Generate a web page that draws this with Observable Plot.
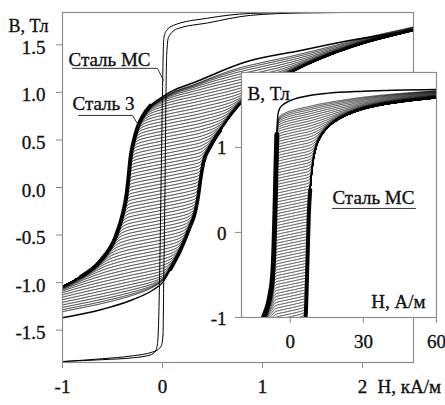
<!DOCTYPE html>
<html><head><meta charset="utf-8">
<script src="https://cdn.jsdelivr.net/npm/d3@7"></script>
<script src="https://cdn.jsdelivr.net/npm/@observablehq/plot@0.6"></script>
<style>
body{margin:0;background:#fff;}
#wrap{position:relative;width:445px;height:405px;overflow:hidden;}
#inset{position:absolute;left:209px;top:70px;}
svg text{font-family:"Liberation Serif","Times New Roman",Times,"DejaVu Serif",serif !important;}
</style></head><body><div id="wrap"><div id="main"></div><div id="inset"></div></div>
<script>
// ---------- data ----------
const mainXTicks=[-1,0,1,2];
const mainYTicks=[-1.5,-1.0,-0.5,0.0,0.5,1.0,1.5];
const insetXTicks=[0,30,60];
const insetYTicks=[-1,0,1];

// Сталь 3: major loop branches (H, кА/м ; B, Тл)
const st3Desc=[[-1.0,-1.05],[-0.82,-0.94],[-0.62,-0.77],[-0.47,-0.52],[-0.39,-0.245],[-0.36,-0.08],[-0.34,0.1],[-0.32,0.31],[-0.29,0.48],[-0.25,0.63],[-0.2,0.745],[-0.12,0.86],[-0.02,0.94],[0.15,1.04],[0.28,1.09],[0.83,1.32],[1.38,1.44],[1.9,1.55],[2.51,1.65]];
const st3Asc=[[-1.0,-1.37],[-0.6,-1.28],[-0.3,-1.18],[-0.1,-1.08],[0.0,-1.0],[0.08,-0.86],[0.18,-0.66],[0.27,-0.43],[0.33,-0.25],[0.36,-0.08],[0.38,0.08],[0.41,0.26],[0.48,0.43],[0.58,0.6],[0.8,0.9],[1.2,1.16],[1.6,1.36],[2.0,1.51],[2.51,1.65]];
// B at H=0 of each partial (reversal) curve, and their slope (Тл per кА/м)
const st3Offsets=[-1.15,-1.115,-1.08,-1.045,-1.01,-0.975,-0.94,-0.905,-0.87,-0.835,-0.8,-0.765,-0.73,-0.695,-0.66,-0.625,-0.59,-0.555,-0.52,-0.485,-0.45,-0.415,-0.38,-0.345,-0.31,-0.275,-0.24,-0.205,-0.17,-0.135,-0.1,-0.065,-0.03,0.005,0.04,0.075,0.11,0.145,0.18,0.215,0.25,0.285,0.32,0.355,0.39,0.425,0.46,0.495,0.53,0.565,0.6,0.635,0.67,0.705,0.74,0.775,0.81,0.845,0.88,0.915,0.95,0.985,1.02,1.055,1.09,1.125,1.16];
const st3Slope=0.2;

// Сталь МС in main plot (H, кА/м ; B, Тл)
const mcDesc=[[-1.0,-1.83],[-0.6,-1.81],[-0.29,-1.79],[-0.12,-1.76],[-0.07,-1.72],[-0.05,-1.64],[-0.04,-1.45],[-0.03,-1.0],[-0.015,0],[0.0,1.0],[0.008,1.45],[0.015,1.58],[0.04,1.65],[0.11,1.705],[0.45,1.78],[0.88,1.83],[1.4,1.84],[2.51,1.845]];
const mcAsc=[[-1.0,-1.83],[-0.6,-1.80],[-0.3,-1.77],[-0.1,-1.73],[-0.04,-1.70],[-0.01,-1.66],[0.005,-1.55],[0.012,-1.0],[0.025,0],[0.035,1.0],[0.042,1.4],[0.06,1.58],[0.15,1.67],[0.45,1.73],[0.88,1.81],[1.4,1.835],[2.51,1.845]];

// Сталь МС inset (H, А/м ; B, Тл)
const mcInDesc=[[-20,-1.35],[-14,-1.17],[-11,-1.0],[-8.2,-0.72],[-7.2,-0.5],[-6.7,-0.2],[-6.3,0.2],[-5.9,0.7],[-5.5,1.15],[-5.1,1.38],[-4.3,1.46],[-2,1.52],[0,1.55],[3,1.58],[8,1.61],[15,1.635],[30,1.66],[60,1.68]];
const mcInAsc=[[-20,-1.6],[0,-1.35],[5,-1.15],[6.3,-1.0],[6.8,-0.6],[7.2,-0.2],[7.6,0.2],[8.2,0.5],[9.5,0.85],[11,1.03],[13.6,1.17],[20.6,1.34],[33,1.47],[45,1.53],[60,1.58]];
const mcInOffsets=[-1.1,-1.065,-1.03,-0.995,-0.96,-0.925,-0.89,-0.855,-0.82,-0.785,-0.75,-0.715,-0.68,-0.645,-0.61,-0.575,-0.54,-0.505,-0.47,-0.435,-0.4,-0.365,-0.33,-0.295,-0.26,-0.225,-0.19,-0.155,-0.12,-0.085,-0.05,-0.015,0.02,0.055,0.09,0.125,0.16,0.195,0.23,0.265,0.3,0.335,0.37,0.405,0.44,0.475,0.51,0.545,0.58,0.615,0.65,0.685,0.72,0.755,0.79,0.825,0.86,0.895,0.93,0.965,1.0,1.035,1.07,1.105,1.14,1.175,1.21,1.245,1.28,1.315,1.35,1.385,1.42,1.455,1.49,1.525,1.56];
const mcInSlope=0.006;

// annotations
const mainLabels=[{x:-0.94,y:1.337,t:"Сталь МС"},{x:-0.90,y:0.874,t:"Сталь 3"}];
const leaderMC=[[-0.90,1.253],[-0.05,1.253],[0.01,1.126]];
const leaderS3=[[-0.84,0.758],[-0.30,0.758],[-0.24,0.653]];
const insetLabel={x:17.3,y:0.41,t:"Сталь МС"};
const insetUnderline=[[17.3,0.282],[51.4,0.282]];

// ---------- helpers ----------
function interp(pts){
  const xs=pts.map(p=>p[0]), ys=pts.map(p=>p[1]), n=xs.length;
  const d=[], m=new Array(n);
  for(let i=0;i<n-1;i++) d.push((ys[i+1]-ys[i])/(xs[i+1]-xs[i]));
  m[0]=d[0]; m[n-1]=d[n-2];
  for(let i=1;i<n-1;i++){
    const h0=xs[i]-xs[i-1], h1=xs[i+1]-xs[i];
    if(d[i-1]*d[i]<=0) m[i]=0;
    else m[i]=3*(h0+h1)/((2*h1+h0)/d[i-1]+(h1+2*h0)/d[i]);
  }
  return x=>{
    if(x<=xs[0]) return ys[0]+m[0]*(x-xs[0]);
    if(x>=xs[n-1]) return ys[n-1]+m[n-1]*(x-xs[n-1]);
    let i=d3.bisectRight(xs,x)-1; if(i>n-2) i=n-2;
    const h=xs[i+1]-xs[i], t=(x-xs[i])/h, t2=t*t, t3=t2*t;
    return (2*t3-3*t2+1)*ys[i]+(t3-2*t2+t)*h*m[i]+(-2*t3+3*t2)*ys[i+1]+(t3-t2)*h*m[i+1];
  };
}
const smin=(a,b,e)=>(a+b)/2-Math.sqrt(((a-b)/2)**2+e*e);
const smax=(a,b,e)=>(a+b)/2+Math.sqrt(((a-b)/2)**2+e*e);
function family(desc,asc,offsets,slope,h0,h1,step,eD,eA){
  const fD=interp(desc), fA=interp(asc), rows=[];
  offsets.forEach((b0,i)=>{
    const n=Math.round((h1-h0)/step);
    for(let k=0;k<=n;k++){
      const h=h0+k*(h1-h0)/n;
      const L=b0+slope*h;
      rows.push({h,b:smax(smin(L,fD(h),eD),fA(h),eA),i});
    }
  });
  return rows;
}
const FONT='"Liberation Serif","Times New Roman",Times,"DejaVu Serif",serif';
const AX="#8c8c8c", TX="#111", FS=19;
const px=d=>d[0], py=d=>d[1];
const within=(arr,lo,hi)=>arr.filter(d=>d[1]>=lo&&d[1]<=hi);
const T=(o)=>Object.assign({fontSize:FS,fill:TX,stroke:TX,strokeWidth:0.35,fontFamily:FONT},o);

// ---------- main plot ----------
const mainRows=family(st3Desc,st3Asc,st3Offsets,st3Slope,-1,2.51,0.004,0.06,0.06);
const main=Plot.plot({
  width:445,height:405,marginLeft:62,marginRight:32,marginTop:12,marginBottom:43,
  x:{domain:[-1,2.51]}, y:{domain:[-1.84,1.84]},
  style:{fontFamily:FONT,background:"transparent",overflow:"visible"},
  marks:[
    Plot.line(mainRows,{x:"h",y:"b",z:"i",stroke:"#000",strokeWidth:0.85,clip:true}),
    Plot.line(st3Desc,{x:px,y:py,curve:"monotone-x",stroke:"#000",strokeWidth:1.6,clip:true}),
    Plot.line(st3Asc,{x:px,y:py,curve:"monotone-x",stroke:"#000",strokeWidth:1.4,clip:true}),
    Plot.line(within(st3Desc,-0.95,0.9),{x:px,y:py,curve:"monotone-x",stroke:"#000",strokeWidth:4,clip:true}),
    Plot.line(within(st3Asc,-0.9,0.65),{x:px,y:py,curve:"monotone-x",stroke:"#000",strokeWidth:3.5,clip:true}),
    Plot.line(mcDesc,{x:px,y:py,curve:"monotone-x",stroke:"#000",strokeWidth:1,clip:true}),
    Plot.line(mcAsc,{x:px,y:py,curve:"monotone-x",stroke:"#000",strokeWidth:1,clip:true}),
    Plot.frame({stroke:AX,strokeWidth:1.2}),
    Plot.axisX({ticks:mainXTicks,tickSize:6,tickFormat:()=>"",stroke:AX}),
    Plot.axisY({ticks:mainYTicks,tickSize:6,tickFormat:()=>"",stroke:AX}),
    Plot.text(mainXTicks,T({x:d=>d,text:d=>String(d),frameAnchor:"bottom",dy:30})),
    Plot.text(mainYTicks,T({y:d=>d,text:d=>d.toFixed(1),frameAnchor:"left",dx:-17,dy:3,textAnchor:"end"})),
    Plot.text(["B, Тл"],T({text:d=>d,frameAnchor:"top-left",dx:-54,dy:7,textAnchor:"start",fontSize:18})),
    Plot.text(["H, кА/м"],T({text:d=>d,frameAnchor:"bottom-right",dx:-36,dy:30,textAnchor:"start"})),
    Plot.line(leaderMC,{x:px,y:py,stroke:"#333",strokeWidth:1}),
    Plot.line(leaderS3,{x:px,y:py,stroke:"#333",strokeWidth:1}),
    Plot.text(mainLabels,T({x:"x",y:"y",text:"t",textAnchor:"start"}))
  ]
});
document.getElementById("main").appendChild(main);

// ---------- inset ----------
const insetRows=family(mcInDesc,mcInAsc,mcInOffsets,mcInSlope,-20,60,0.04,0.13,0.06);
const inset=Plot.plot({
  width:236,height:287,marginLeft:32,marginRight:9,marginTop:2,marginBottom:40,
  x:{domain:[-20,60]}, y:{domain:[-1,1.88]},
  style:{fontFamily:FONT,background:"transparent",overflow:"visible"},
  marks:[
    Plot.frame({fill:"#fff",stroke:"none"}),
    Plot.line(insetRows,{x:"h",y:"b",z:"i",stroke:"#000",strokeWidth:0.8,clip:true}),
    Plot.line(mcInDesc,{x:px,y:py,curve:"monotone-x",stroke:"#000",strokeWidth:1.4,clip:true}),
    Plot.line(mcInAsc,{x:px,y:py,curve:"monotone-x",stroke:"#000",strokeWidth:1.4,clip:true}),
    Plot.line(within(mcInDesc,-1.2,1.3),{x:px,y:py,curve:"monotone-x",stroke:"#000",strokeWidth:5,clip:true}),
    Plot.line(within(mcInAsc,-1.2,0.6),{x:px,y:py,curve:"monotone-x",stroke:"#000",strokeWidth:4,clip:true}),
    Plot.frame({stroke:AX,strokeWidth:1.2}),
    Plot.axisX({ticks:insetXTicks,tickSize:6,tickFormat:()=>"",stroke:AX}),
    Plot.axisY({ticks:insetYTicks,tickSize:6,tickFormat:()=>"",stroke:AX}),
    Plot.text(insetXTicks,T({x:d=>d,text:d=>String(d),frameAnchor:"bottom",dy:30})),
    Plot.text(insetYTicks,T({y:d=>d,text:d=>String(d),frameAnchor:"left",dx:-15,dy:1,textAnchor:"end"})),
    Plot.text(["B, Тл"],T({text:d=>d,frameAnchor:"top-left",dx:6,dy:14,textAnchor:"start"})),
    Plot.text(["H, А/м"],T({text:d=>d,frameAnchor:"bottom-right",dx:-11,dy:-10,textAnchor:"end"})),
    Plot.text([insetLabel],T({x:"x",y:"y",text:"t",textAnchor:"start"})),
    Plot.line(insetUnderline,{x:px,y:py,stroke:"#333",strokeWidth:1})
  ]
});
document.getElementById("inset").appendChild(inset);
</script>
</body></html>
